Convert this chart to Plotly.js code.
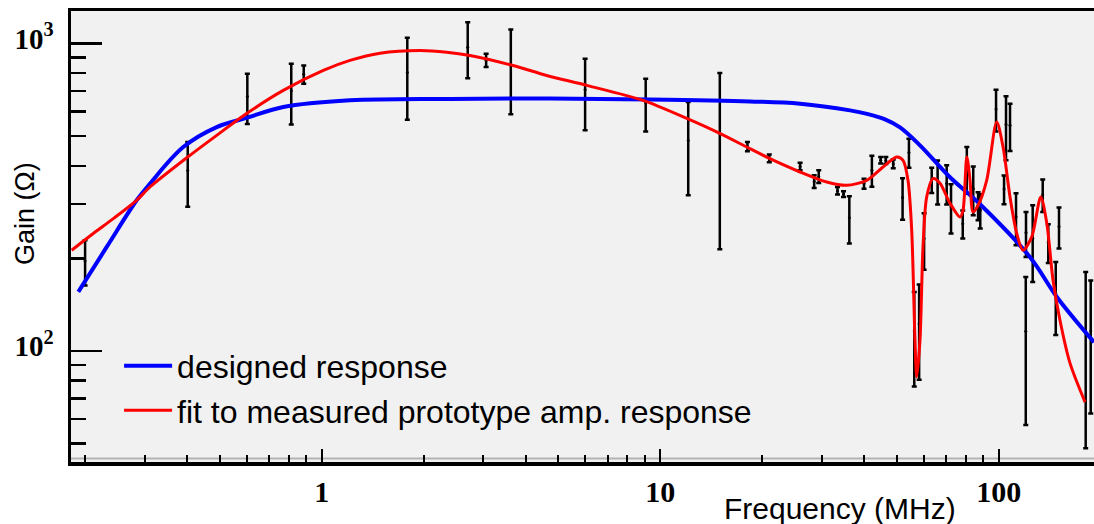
<!DOCTYPE html>
<html>
<head>
<meta charset="utf-8">
<script src="https://cdn.plot.ly/plotly-3.0.1.min.js"></script>
<style>html,body{margin:0;padding:0;background:#fff;}#chart{width:1094px;height:524px;}</style>
</head>
<body>
<div id="chart"></div>
<script>
// Measured prototype points (frequency MHz, gain Ohm, symmetric error)
const measFreq = [0.200,0.402,0.603,0.813,0.885,1.79,2.70,3.06,3.62,6.0,9.06,12.1,15.0,18.1,21.0,25.9,28.5,29.4,33.4,34.8,36.2,40.0,42.2,44.8,46.4,48.8,52.0,54.3,56.3,58.2,60.2,63.4,66.0,70.2,72.3,78.3,80.5,84.1,86.9,88.2,98.2,105.1,103.7,108.0,112.5,120.4,120.2,126.0,134.9,140.1,147.4,150.7,180.7,187.0];
const measGain = [196,386,672,702,794,804,972,882,849,707,642,483,508,462,423,398,355.5,369,332,323.5,271,350,386.5,417,416,406,315.5,442,116,122.5,232,360,358,350.5,294.5,259,392.5,337,297,286.5,612,545,336,542,273,242.5,115.7,232.5,322,225.5,153.5,254,114.4,116];
const measErr  = [33,92,125,157,54,239,201,44,261,185,125,162,294,16,12,11.5,17,17.5,9.5,7,47.5,13,44.5,10,11,13,48.6,48,39.5,42,48.5,34,58.5,51,53.7,27,68,61,31,36.5,95,128,36,95,52.5,40.5,58.3,65,39,32.5,41,38.7,66.2,53.5];

// Designed response curve
const designFreq = [0.191,0.2317,0.284,0.311,0.390,0.4896,0.603,0.770,1.212,2.393,4.725,9.33,18.42,25.9,36.38,40.82,46.15,51.1,58.54,71.79,88.08,123.8,148.7,191.2];
const designGain = [155.5,217.8,308.9,350,460.3,534.6,573.4,620.9,652.9,660.2,662.6,657.6,647.8,636.8,605.7,590,566.2,533.4,466.2,366.9,299.8,201.6,149.4,106.7];

// Fit to measured prototype amplifier response
const fitFreq = [0.1826,0.2114,0.2423,0.284,0.311,0.402,0.4896,0.603,0.770,1.011,1.212,1.486,1.951,2.341,2.743,3.674,4.62,6.066,8.897,11.98,15.0,18.01,21.1,25.9,31.04,35.56,40.74,45.52,49.96,52.17,53.95,55.33,56.58,57.25,58.54,59.75,61.27,63.97,67.08,71.79,76.87,78.45,80.5,82.28,83.98,86.9,92.15,98.65,103,108,113,118,125.2,133.1,138.7,144.7,151.7,162.4,179.9];
const fitGain = [212.5,240.8,269.3,308.9,341.2,427,502.3,593.6,703.6,817,880.6,930,949,937,914,848,787,730.4,652.9,570.4,509.9,460.3,421.9,381.8,354.2,345.6,358.7,396.3,427,416.7,358.7,246.8,108.3,82.3,108.3,217.8,316.6,363.4,350.8,302,272.6,286.6,427,358.7,283,297.5,358.7,554.8,460.3,316.6,241.3,212.5,234.7,316.6,260,169.7,125.8,91.2,68.1];

const xTickVals = [1,10,100];
const xTickText = ['1','10','100'];
const xMinor = [0.2,0.3,0.4,0.5,0.6,0.7,0.8,0.9,2,3,4,5,6,7,8,9,20,30,40,50,60,70,80,90];
const yTickVals = [100,1000];
const yTickText = ['10<sup>2</sup>','10<sup>3</sup>'];
const yMinor = [50,60,70,80,90,200,300,400,500,600,700,800,900];

const traces = [
  {
    x: measFreq, y: measGain, type: 'scatter', mode: 'markers', showlegend: false,
    marker: {color: 'black', size: 3},
    error_y: {type: 'data', array: measErr, visible: true, color: 'black', thickness: 2.5, width: 2.5}
  },
  {
    x: designFreq, y: designGain, type: 'scatter', mode: 'lines', name: 'designed response',
    line: {color: '#0000ff', width: 4, shape: 'spline', smoothing: 1}
  },
  {
    x: fitFreq, y: fitGain, type: 'scatter', mode: 'lines', name: 'fit to measured prototype amp. response',
    line: {color: '#ff0000', width: 3, shape: 'spline', smoothing: 0.8}
  }
];

const layout = {
  width: 1094, height: 524, autosize: false,
  margin: {l: 71, r: 0, t: 11, b: 62},
  paper_bgcolor: '#ffffff', plot_bgcolor: '#f1f1f1',
  font: {family: 'Liberation Sans, Arial, sans-serif', color: 'black'},
  xaxis: {
    type: 'log', range: [-0.7406, 2.2815],
    showline: true, linewidth: 3.5, linecolor: 'black', mirror: true,
    showgrid: false, zeroline: false,
    ticks: 'inside', ticklen: 13, tickwidth: 2, tickcolor: 'black',
    tickmode: 'array', tickvals: xTickVals, ticktext: xTickText,
    tickfont: {family: 'Liberation Serif, Times New Roman, serif', size: 30, weight: 'bold', color: 'black'},
    ticklabelstandoff: 0,
    minor: {tickmode: 'array', tickvals: xMinor, ticks: 'inside', ticklen: 7, tickwidth: 2, tickcolor: 'black', showgrid: false}
  },
  yaxis: {
    type: 'log', range: [1.6383, 3.1056],
    showline: true, linewidth: 3.5, linecolor: 'black',
    showgrid: false, zeroline: false,
    ticks: 'inside', ticklen: 31, tickwidth: 2.5, tickcolor: 'black',
    tickmode: 'array', tickvals: yTickVals, ticktext: yTickText,
    tickfont: {family: 'Liberation Serif, Times New Roman, serif', size: 29, weight: 'bold', color: 'black'},
    ticklabelstandoff: 8, ticklabelshift: -5,
    minor: {tickmode: 'array', tickvals: yMinor, ticks: 'inside', ticklen: 15, tickwidth: 2.5, tickcolor: 'black', showgrid: false}
  },
  legend: {
    x: 0.047, y: 0.274, xanchor: 'left', yanchor: 'top',
    bgcolor: 'rgba(0,0,0,0)', borderwidth: 0,
    font: {family: 'Liberation Sans, Arial, sans-serif', size: 32, color: 'black'},
    itemwidth: 48, tracegroupgap: 0
  },
  annotations: [
    {text: 'Frequency (MHz)', xref: 'paper', yref: 'paper', x: 0.867, y: -0.102,
     xanchor: 'right', yanchor: 'middle', showarrow: false,
     font: {family: 'Liberation Sans, Arial, sans-serif', size: 30, color: 'black'}},
    {text: 'Gain (Ω)', xref: 'paper', yref: 'paper', x: -0.045, y: 0.552,
     xanchor: 'center', yanchor: 'middle', textangle: -90, showarrow: false,
     font: {family: 'Liberation Sans, Arial, sans-serif', size: 27, color: 'black'}}
  ],
  shapes: [
    {type: 'line', xref: 'paper', yref: 'paper', x0: 0, x1: 1, y0: 0.0075, y1: 0.0075,
     line: {color: '#b4b4b4', width: 2}, layer: 'below'}
  ]
};

Plotly.newPlot('chart', traces, layout, {displayModeBar: false, staticPlot: true});
</script>
</body>
</html>
